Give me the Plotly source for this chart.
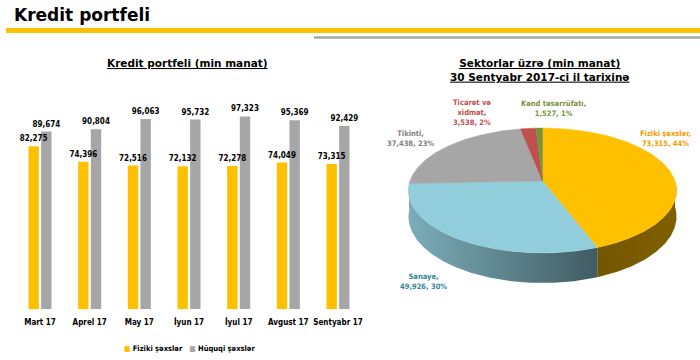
import numpy as np
import plotly.graph_objects as go

# ---------------- data ----------------
months = ["Mart 17", "Aprel 17", "May 17", "İyun 17", "İyul 17", "Avgust 17", "Sentyabr 17"]
fiziki = [82275, 74396, 72516, 72132, 72278, 74049, 73315]
huquqi = [89674, 90804, 96063, 95732, 97323, 95369, 92429]

sector_names = ["Fiziki şəxslər", "Sənaye", "Tikinti", "Ticarət və<br>xidmət", "Kənd təsərrüfatı"]
sector_values = [73315, 49926, 37438, 3538, 1527]
sector_colors = ["#FFC000", "#92CDDC", "#A6A6A6", "#C0504D", "#77933C"]
sector_text_colors = ["#F59B00", "#31859C", "#7F7F7F", "#C0504D", "#77933C"]

W, H = 700, 360
CHART_FONT = "DejaVu Sans Condensed, DejaVu Sans, sans-serif"
TITLE_FONT = "DejaVu Sans, Verdana, sans-serif"


def px(x):
    return x / W


def py(y):
    return 1 - y / H


fig = go.Figure()

# ---------------- bar chart ----------------
fig.add_trace(go.Bar(
    x=months, y=fiziki, name="Fiziki şəxslər", marker_color="#FFC000", marker_line_width=0,
    offsetgroup="f", hoverinfo="skip", showlegend=False, xaxis="x", yaxis="y",
))
fig.add_trace(go.Bar(
    x=months, y=huquqi, name="Hüquqi şəxslər", marker_color="#A6A6A6", marker_line_width=0,
    offsetgroup="h", texttemplate="%{y:,}", textposition="outside", textangle=0,
    constraintext="none", cliponaxis=False,
    textfont=dict(family=CHART_FONT, size=8, color="#000000", weight="bold"),
    hoverinfo="skip", showlegend=False, xaxis="x", yaxis="y",
))
# transparent copy of the first series, drawn last so its value labels sit on top
fig.add_trace(go.Bar(
    x=months, y=fiziki, name="Fiziki şəxslər (labels)", marker_color="rgba(0,0,0,0)",
    marker_line_width=0, offsetgroup="f", texttemplate="%{y:,}", textposition="outside",
    textangle=0, constraintext="none", cliponaxis=False,
    textfont=dict(family=CHART_FONT, size=8, color="#000000", weight="bold"),
    hoverinfo="skip", showlegend=False, xaxis="x", yaxis="y",
))

# ---------------- 3D-looking pie (drawn on a hidden pixel-space axis) ----------------
CX, CY, R, R2, K, DEPTH = 542.5, 181.0, 132.5, 61.0, 0.152, 25.5


def proj(phi_deg, h=0.0):
    p = np.radians(phi_deg)
    u, v = np.cos(p), np.sin(p)
    s = 1.0 / (1.0 + K * v)
    return CX + R * u * s, CY - R2 * v * s + h * s


def shade(u):
    if u <= 0.4:
        return 0.85 - 0.40 * (u + 1) / 1.4
    return 0.45 + 0.05 * (u - 0.4) / 0.6


def scale_col(hexc, f):
    hexc = hexc.lstrip("#")
    r, g, b = (int(hexc[i:i + 2], 16) for i in (0, 2, 4))
    return "rgb(%d,%d,%d)" % (r * f, g * f, b * f)


vals = np.array(sector_values, dtype=float)
total = vals.sum()
cum = np.concatenate([[0], np.cumsum(vals)]) / total
phi_start = 90 - 360 * cum[:-1]
phi_end = 90 - 360 * cum[1:]

GX0, GX1 = CX - R * 1.02, CX + R * 1.02
grad_u = np.linspace(-1, 1, 11)

# side walls (front half only), one polygon per slice with a horizontal gradient
for i in range(len(vals)):
    a = max(phi_end[i], -180.0)
    b = min(phi_start[i], 0.0)
    if a >= b:
        continue
    arc = np.linspace(b, a, max(4, int((b - a) * 2)))
    xt, yt = proj(arc, 0)
    xb, yb = proj(arc[::-1], DEPTH)
    xs = np.concatenate([xt, xb, xt[:1]])
    ys = np.concatenate([yt, yb, yt[:1]])
    cscale = [[(uu + 1) / 2, scale_col(sector_colors[i], shade(uu))] for uu in grad_u]
    edge = scale_col(sector_colors[i], shade(np.cos(np.radians((a + b) / 2))))
    fig.add_trace(go.Scatter(
        x=xs, y=ys, mode="lines", fill="toself",
        fillgradient=dict(type="horizontal", colorscale=cscale, start=GX0, stop=GX1),
        line=dict(color=edge, width=0), hoverinfo="skip", showlegend=False,
        xaxis="x2", yaxis="y2",
    ))

# top faces
for i in range(len(vals)):
    arc = np.linspace(phi_start[i], phi_end[i], max(3, int(abs(phi_start[i] - phi_end[i])) + 2))
    xa, ya = proj(arc, 0)
    xs = np.concatenate([[CX], xa, [CX]])
    ys = np.concatenate([[CY], ya, [CY]])
    fig.add_trace(go.Scatter(
        x=xs, y=ys, mode="lines", fill="toself", fillcolor=sector_colors[i],
        line=dict(color=sector_colors[i], width=0.5), hoverinfo="skip", showlegend=False,
        xaxis="x2", yaxis="y2",
    ))

# pie labels
label_pos = [(665, 138.5), (423, 281.5), (410, 138.5), (472, 112), (553, 108)]
for i in range(len(vals)):
    pct = round(vals[i] / total * 100)
    txt = "%s,<br>%s, %d%%" % (sector_names[i], f"{sector_values[i]:,}", pct)
    fig.add_annotation(
        x=label_pos[i][0], y=label_pos[i][1], xref="x2", yref="y2", text=txt,
        showarrow=False, xanchor="center", yanchor="middle", align="center",
        font=dict(family=CHART_FONT, size=7.5, color=sector_text_colors[i], weight="bold"),
    )

# ---------------- titles, legend, rules ----------------
fig.add_annotation(x=px(12), y=py(15), xref="paper", yref="paper", text="Kredit portfeli",
                   showarrow=False, xanchor="left", yanchor="middle",
                   font=dict(family=TITLE_FONT, size=17, color="#000000", weight="bold"))
fig.add_annotation(x=px(187), y=py(63), xref="paper", yref="paper", text="Kredit portfeli (min manat)",
                   showarrow=False, xanchor="center", yanchor="middle",
                   font=dict(family=TITLE_FONT, size=10.5, color="#000000", weight="bold", lineposition="under"))
fig.add_annotation(x=px(540), y=py(69.5), xref="paper", yref="paper",
                   text="Sektorlar üzrə (min manat)<br>30 Sentyabr 2017-ci il tarixinə",
                   showarrow=False, xanchor="center", yanchor="middle", align="center",
                   font=dict(family=TITLE_FONT, size=10.5, color="#000000", weight="bold", lineposition="under"))
fig.add_annotation(x=px(190), y=py(348), xref="paper", yref="paper",
                   text="<span style='color:#FFC000'>■</span> Fiziki şəxslər&nbsp;&nbsp;&nbsp;"
                        "<span style='color:#A6A6A6'>■</span> Hüquqi şəxslər",
                   showarrow=False, xanchor="center", yanchor="middle",
                   font=dict(family=CHART_FONT, size=7.5, color="#000000", weight="bold"))

fig.add_shape(type="line", xref="paper", yref="paper", x0=px(6), x1=1, y0=py(30.5), y1=py(30.5),
              line=dict(color="#FFC000", width=5))
fig.add_shape(type="line", xref="paper", yref="paper", x0=px(314), x1=1, y0=py(37.5), y1=py(37.5),
              line=dict(color="#A6A6A6", width=2.5))

fig.update_layout(
    width=W, height=H, margin=dict(l=0, r=0, t=0, b=0),
    paper_bgcolor="white", plot_bgcolor="rgba(0,0,0,0)",
    barmode="group", bargap=0.49, bargroupgap=0.18,
    showlegend=False,
    xaxis=dict(domain=[px(15.17), px(362.83)], showgrid=False, zeroline=False, showline=False,
               ticks="", ticklabelstandoff=7,
               tickfont=dict(family=CHART_FONT, size=8, color="#000000", weight="bold"),
               fixedrange=True),
    yaxis=dict(domain=[py(309.3), py(100)], range=[0, 209.3 / 1.982 * 1000], visible=False,
               fixedrange=True),
    xaxis2=dict(domain=[0, 1], range=[0, W], visible=False, anchor="y2", fixedrange=True),
    yaxis2=dict(domain=[0, 1], range=[H, 0], visible=False, anchor="x2", fixedrange=True),
)

fig.write_html("out.html", config={"displayModeBar": False},
               post_script="document.body.style.margin='0';")
